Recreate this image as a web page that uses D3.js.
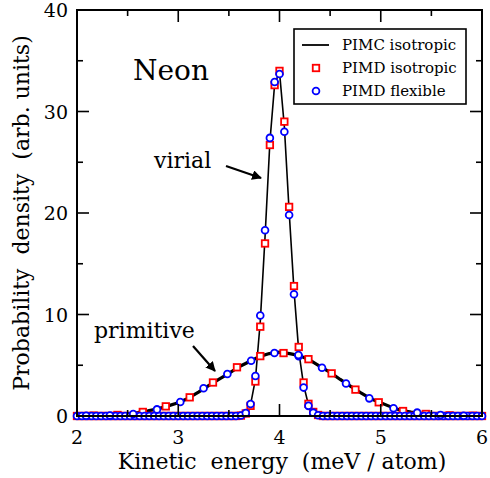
<!DOCTYPE html>
<html>
<head>
<meta charset="utf-8">
<script src="https://cdn.jsdelivr.net/npm/d3@7"></script>
<style>
  html, body { margin: 0; padding: 0; background: #fff; }
  svg { display: block; }
</style>
</head>
<body>
<svg id="chart" width="490" height="478"></svg>
<script>
// Energy bins (meV / atom) used for the virial-estimator histograms
const binEnergy = [
  2.000, 2.048, 2.095, 2.143, 2.190, 2.238, 2.286, 2.333, 2.381, 2.429,
  2.476, 2.524, 2.571, 2.619, 2.667, 2.714, 2.762, 2.810, 2.857, 2.905,
  2.952, 3.000, 3.048, 3.095, 3.143, 3.190, 3.238, 3.286, 3.333, 3.381,
  3.429, 3.476, 3.524, 3.571, 3.619, 3.667, 3.714, 3.762, 3.810, 3.857,
  3.905, 3.952, 4.000, 4.048, 4.095, 4.143, 4.190, 4.238, 4.286, 4.333,
  4.381, 4.429, 4.476, 4.524, 4.571, 4.619, 4.667, 4.714, 4.762, 4.810,
  4.857, 4.905, 4.952, 5.000, 5.048, 5.095, 5.143, 5.190, 5.238, 5.286,
  5.333, 5.381, 5.429, 5.476, 5.524, 5.571, 5.619, 5.667, 5.714, 5.762,
  5.810, 5.857, 5.905, 5.952, 6.000
];

// Virial estimator, PIMD isotropic (one value per bin)
const virialIso = [
  0, 0, 0, 0, 0, 0, 0, 0, 0, 0,
  0, 0, 0, 0, 0, 0, 0, 0, 0, 0,
  0, 0, 0, 0, 0, 0, 0, 0, 0, 0,
  0, 0, 0, 0, 0.04, 0.25, 1.0, 3.4, 8.8, 17.0,
  26.7, 32.6, 34.0, 29.0, 20.6, 12.8, 6.8, 3.3, 1.2, 0.4,
  0.1, 0, 0, 0, 0, 0, 0, 0, 0, 0,
  0, 0, 0, 0, 0, 0, 0, 0, 0, 0,
  0, 0, 0, 0, 0, 0, 0, 0, 0, 0,
  0, 0, 0, 0, 0
];

// Virial estimator, PIMD flexible (one value per bin)
const virialFlex = [
  0, 0, 0, 0, 0, 0, 0, 0, 0, 0,
  0, 0, 0, 0, 0, 0, 0, 0, 0, 0,
  0, 0, 0, 0, 0, 0, 0, 0, 0, 0,
  0, 0, 0, 0, 0.05, 0.3, 1.18, 3.94, 9.9, 18.3,
  27.4, 32.9, 33.7, 28.0, 19.8, 12.0, 5.9, 2.8, 1.0, 0.33,
  0.08, 0, 0, 0, 0, 0, 0, 0, 0, 0,
  0, 0, 0, 0, 0, 0, 0, 0, 0, 0,
  0, 0, 0, 0, 0, 0, 0, 0, 0, 0,
  0, 0, 0, 0, 0
];

// Virial estimator, PIMC isotropic reference curve
const pimcVirialE = [2.000, 3.571, 3.619, 3.667, 3.714, 3.762, 3.810, 3.857, 3.905, 3.952,
                     4.000, 4.048, 4.095, 4.143, 4.190, 4.238, 4.286, 4.333, 4.381, 4.429, 6.000];
const pimcVirialP = [0, 0, 0.05, 0.28, 1.1, 3.6, 9.3, 17.6, 27.0, 32.7,
                     33.9, 28.5, 20.2, 12.4, 6.4, 3.05, 1.1, 0.37, 0.1, 0, 0];

// Primitive estimator, PIMC isotropic reference curve
const pimcPrimE = [2.0, 2.1, 2.2, 2.3, 2.4, 2.5, 2.6, 2.7, 2.8, 2.9,
                   3.0, 3.1, 3.2, 3.3, 3.4, 3.5, 3.6, 3.7, 3.8, 3.9,
                   4.0, 4.1, 4.2, 4.3, 4.4, 4.5, 4.6, 4.7, 4.8, 4.9,
                   5.0, 5.1, 5.2, 5.3, 5.4, 5.5, 5.6, 5.7, 5.8, 5.9, 6.0];
const pimcPrimP = [0, 0.02, 0.04, 0.06, 0.12, 0.2, 0.33, 0.5, 0.7, 1.0,
                   1.3, 1.75, 2.35, 3.0, 3.6, 4.2, 4.85, 5.35, 5.85, 6.15,
                   6.3, 6.15, 5.95, 5.5, 4.9, 4.3, 3.6, 2.95, 2.3, 1.7,
                   1.3, 0.9, 0.55, 0.38, 0.25, 0.15, 0.09, 0.05, 0.03, 0.01, 0];

// Primitive estimator, PIMD isotropic
const primIsoE = [2.165, 2.400, 2.650, 2.877, 3.113, 3.343, 3.580, 3.810, 4.040,
                  4.286, 4.515, 4.750, 4.980, 5.220, 5.445, 5.680, 5.910];
const primIsoP = [0.03, 0.1, 0.4, 0.95, 1.84, 3.3, 4.8, 5.9, 6.2,
                  5.6, 4.2, 2.6, 1.35, 0.49, 0.2, 0.06, 0.02];

// Primitive estimator, PIMD flexible
const primFlexE = [2.090, 2.325, 2.555, 2.790, 3.020, 3.250, 3.485, 3.720, 3.950,
                   4.187, 4.420, 4.657, 4.887, 5.126, 5.360, 5.590, 5.820];
const primFlexP = [0.02, 0.05, 0.2, 0.65, 1.38, 2.73, 4.14, 5.45, 6.2,
                   6.0, 4.76, 3.2, 1.74, 0.76, 0.33, 0.1, 0.03];

// Axis ticks
const xMajor = [2, 3, 4, 5, 6];
const xMinor = [2.5, 3.5, 4.5, 5.5];
const yMajor = [0, 10, 20, 30, 40];
const yMinor = [5, 15, 25, 35];

const legendItems = ["PIMC isotropic", "PIMD isotropic", "PIMD flexible"];

const serif = "DejaVu Serif";
const svg = d3.select("#chart");
const plotL = 77, plotR = 482, plotT = 10, plotB = 416;

const x = d3.scaleLinear().domain([2, 6]).range([plotL, plotR]);
const y = d3.scaleLinear().domain([0, 40]).range([plotB, plotT]);

const red = "#ff0000", blue = "#0000ff";

// Curves from PIMC
const line = d3.line().x((d) => x(d[0])).y((d) => y(d[1]));
const plot = svg.append("g");
plot.append("path")
  .datum(d3.zip(pimcPrimE, pimcPrimP))
  .attr("d", line).attr("fill", "none")
  .attr("stroke", "#000").attr("stroke-width", 3.2).attr("stroke-linejoin", "round");
plot.append("path")
  .datum(d3.zip(pimcVirialE, pimcVirialP))
  .attr("d", line).attr("fill", "none")
  .attr("stroke", "#000").attr("stroke-width", 1.6);

// PIMD markers: red squares (isotropic), blue circles (flexible)
const sq = 6.5;
function squares(E, P) {
  plot.append("g").selectAll("rect").data(d3.zip(E, P)).join("rect")
    .attr("x", (d) => x(d[0]) - sq / 2).attr("y", (d) => y(d[1]) - sq / 2)
    .attr("width", sq).attr("height", sq)
    .attr("fill", "#fff").attr("stroke", red).attr("stroke-width", 1.8);
}
function circles(E, P) {
  plot.append("g").selectAll("circle").data(d3.zip(E, P)).join("circle")
    .attr("cx", (d) => x(d[0])).attr("cy", (d) => y(d[1])).attr("r", 3.4)
    .attr("fill", "#fff").attr("stroke", blue).attr("stroke-width", 1.8);
}
squares(binEnergy, virialIso);
squares(primIsoE, primIsoP);
circles(binEnergy, virialFlex);
circles(primFlexE, primFlexP);

// Frame
svg.append("rect")
  .attr("x", plotL).attr("y", plotT)
  .attr("width", plotR - plotL).attr("height", plotB - plotT)
  .attr("fill", "none").attr("stroke", "#000").attr("stroke-width", 2);

// Inward ticks on all four sides
const ticks = svg.append("g").attr("stroke", "#000").attr("stroke-width", 1.6);
function tickX(vals, len) {
  vals.forEach((v) => {
    ticks.append("line").attr("x1", x(v)).attr("x2", x(v)).attr("y1", plotB).attr("y2", plotB - len);
    ticks.append("line").attr("x1", x(v)).attr("x2", x(v)).attr("y1", plotT).attr("y2", plotT + len);
  });
}
function tickY(vals, len) {
  vals.forEach((v) => {
    ticks.append("line").attr("y1", y(v)).attr("y2", y(v)).attr("x1", plotL).attr("x2", plotL + len);
    ticks.append("line").attr("y1", y(v)).attr("y2", y(v)).attr("x1", plotR).attr("x2", plotR - len);
  });
}
tickX(xMajor, 12); tickX(xMinor, 6);
tickY(yMajor, 12); tickY(yMinor, 6);

// All text goes through one helper so the serif face is set on every element
function label(sel, size) {
  return sel.style("font-family", serif).attr("font-size", size).attr("fill", "#000");
}

// Tick labels
label(svg.append("g").selectAll("text").data(xMajor).join("text"), 19)
  .attr("x", (d) => x(d)).attr("y", 444)
  .attr("text-anchor", "middle").text((d) => d);
label(svg.append("g").selectAll("text").data(yMajor).join("text"), 19)
  .attr("x", 68).attr("y", (d) => y(d) + 7)
  .attr("text-anchor", "end").text((d) => d);

// Axis titles
label(svg.append("text"), 22).attr("x", 282).attr("y", 469)
  .attr("text-anchor", "middle")
  .style("white-space", "pre")
  .text("Kinetic  energy  (meV / atom)");
label(svg.append("text"), 22)
  .attr("transform", "translate(29,213) rotate(-90)")
  .attr("text-anchor", "middle")
  .style("white-space", "pre")
  .text("Probability  density  (arb. units)");

// Annotations
label(svg.append("text"), 28).attr("x", 133).attr("y", 80).text("Neon");
label(svg.append("text"), 22).attr("x", 154).attr("y", 168).text("virial");
label(svg.append("text"), 22).attr("x", 94).attr("y", 338).text("primitive");

const defs = svg.append("defs");
defs.append("marker").attr("id", "head")
  .attr("viewBox", "0 0 10 10").attr("refX", 9).attr("refY", 5)
  .attr("markerWidth", 4.5).attr("markerHeight", 4.5).attr("orient", "auto")
  .append("path").attr("d", "M0,0 L10,5 L0,10 z").attr("fill", "#000");
svg.append("line").attr("x1", 226).attr("y1", 166).attr("x2", 261).attr("y2", 178)
  .attr("stroke", "#000").attr("stroke-width", 2.2).attr("marker-end", "url(#head)");
svg.append("line").attr("x1", 193).attr("y1", 346).attr("x2", 215).attr("y2", 371)
  .attr("stroke", "#000").attr("stroke-width", 2.2).attr("marker-end", "url(#head)");

// Legend
const lg = svg.append("g");
lg.append("rect").attr("x", 294).attr("y", 29).attr("width", 172).attr("height", 75)
  .attr("fill", "#fff").attr("stroke", "#000").attr("stroke-width", 1.6);
const rowY = [45, 68, 91];
lg.append("line").attr("x1", 302).attr("x2", 329).attr("y1", rowY[0]).attr("y2", rowY[0])
  .attr("stroke", "#000").attr("stroke-width", 1.8);
lg.append("rect").attr("x", 316 - sq / 2).attr("y", rowY[1] - sq / 2)
  .attr("width", sq).attr("height", sq)
  .attr("fill", "#fff").attr("stroke", red).attr("stroke-width", 1.8);
lg.append("circle").attr("cx", 316).attr("cy", rowY[2]).attr("r", 3.4)
  .attr("fill", "#fff").attr("stroke", blue).attr("stroke-width", 1.8);
label(lg.selectAll("text.lab").data(legendItems).join("text"), 15)
  .attr("class", "lab")
  .attr("x", 342).attr("y", (d, i) => rowY[i] + 5)
  .text((d) => d);
</script>
</body>
</html>
